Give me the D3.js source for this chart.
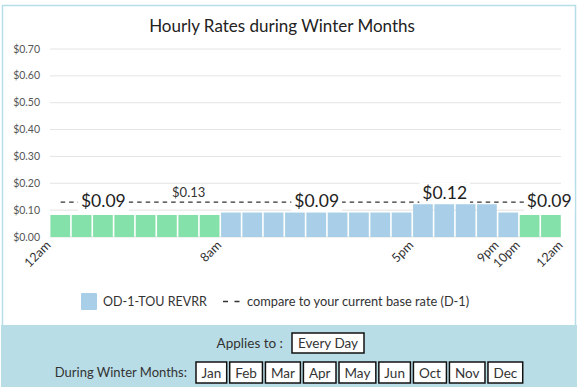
<!DOCTYPE html>
<html>
<head>
<meta charset="utf-8">
<script src="https://cdn.jsdelivr.net/npm/d3@7"></script>
<style>
  body { margin: 0; background: #fff; }
  text { font-family: Lato, "Noto Sans", sans-serif; }
</style>
</head>
<body>
<div id="chart"></div>
<script>
// hourly rates, 12am .. 11pm
var hourRates = [0.082, 0.082, 0.082, 0.082, 0.082, 0.082, 0.082, 0.082,
                 0.091, 0.091, 0.091, 0.091, 0.091, 0.091, 0.091, 0.091, 0.091,
                 0.122, 0.122, 0.122, 0.122,
                 0.091,
                 0.082, 0.082];
var hourPeriods = ["off", "off", "off", "off", "off", "off", "off", "off",
                   "on", "on", "on", "on", "on", "on", "on", "on", "on",
                   "on", "on", "on", "on",
                   "on",
                   "off", "off"];

var tickHours = [0, 8, 17, 21, 22, 24];
var tickLabels = ["12am", "8am", "5pm", "9pm", "10pm", "12am"];
var yTicks = [0, 0.1, 0.2, 0.3, 0.4, 0.5, 0.6, 0.7];

var priceLabels = ["$0.09", "$0.09", "$0.12", "$0.09"];
var priceLabelHours = [2.5, 12.5, 18.5, 23.4];
var priceLabelValues = [0.09, 0.09, 0.12, 0.09];

var baseRate = 0.13;
var baseRateLabel = "$0.13";
var baseRateLabelHour = 6.5;

var legendRate = "OD-1-TOU REVRR";
var legendBase = "compare to your current base rate (D-1)";
var appliesTo = "Every Day";
var winterMonths = ["Jan", "Feb", "Mar", "Apr", "May", "Jun", "Oct", "Nov", "Dec"];

var width = 581, height = 387;
var colors = { off: "#85e1aa", on: "#a8cfe7" };

var svg = d3.select("#chart").append("svg")
    .attr("width", width)
    .attr("height", height);

// panel frame
svg.append("rect")
    .attr("x", 2.5).attr("y", 5.5)
    .attr("width", 573).attr("height", 330)
    .attr("fill", "#fff")
    .attr("stroke", "#b7dde6")
    .attr("stroke-width", 1.5);

svg.append("rect")
    .attr("x", 1).attr("y", 325)
    .attr("width", 576).attr("height", 62)
    .attr("fill", "#b8dde7");

svg.append("text")
    .attr("x", 282).attr("y", 32)
    .attr("text-anchor", "middle")
    .style("font-size", "17px")
    .style("fill", "#222")
    .text("Hourly Rates during Winter Months");

var x = d3.scaleLinear().domain([0, 24]).range([50, 562]);
var y = d3.scaleLinear().domain([0, 0.7]).range([237, 49]);

// gridlines + y labels
var grid = svg.append("g");
grid.selectAll("line").data(yTicks).enter().append("line")
    .attr("x1", x(0)).attr("x2", x(24) - 1)
    .attr("y1", function(d){ return y(d); })
    .attr("y2", function(d){ return y(d); })
    .style("stroke", "#e4e4e4")
    .style("stroke-width", 1);
grid.selectAll("text").data(yTicks).enter().append("text")
    .attr("x", 40)
    .attr("y", function(d){ return y(d) + 3.5; })
    .attr("text-anchor", "end")
    .style("font-size", "10.5px")
    .style("fill", "#555")
    .text(function(d){ return "$" + d3.format(".2f")(d); });

// bars
svg.append("g").selectAll("rect").data(hourRates).enter().append("rect")
    .attr("x", function(d, i){ return x(i) + 0.4; })
    .attr("width", function(d, i){ return x(i + 1) - x(i) - 1.6; })
    .attr("y", function(d){ return y(d); })
    .attr("height", function(d){ return y(0) - y(d); })
    .style("fill", function(d, i){ return colors[hourPeriods[i]]; });

// base rate dashed line, bar centre to bar centre
svg.append("line")
    .attr("x1", x(0.5)).attr("x2", x(23.5))
    .attr("y1", y(baseRate)).attr("y2", y(baseRate))
    .style("stroke", "#333")
    .style("stroke-width", 1.4)
    .style("stroke-dasharray", "4.5,4");

svg.append("text")
    .attr("x", x(baseRateLabelHour))
    .attr("y", y(baseRate) - 5.5)
    .attr("text-anchor", "middle")
    .style("font-size", "13px")
    .style("fill", "#333")
    .text(baseRateLabel);

// price labels with white backing
priceLabels.forEach(function(lbl, i){
    var g = svg.append("g");
    var bg = g.append("rect").style("fill", "#fff");
    var t = g.append("text")
        .attr("x", x(priceLabelHours[i]))
        .attr("y", y(priceLabelValues[i]) - 6)
        .attr("text-anchor", "middle")
        .style("font-size", "17.5px")
        .style("fill", "#222")
        .text(lbl);
    var b = t.node().getBBox();
    bg.attr("x", b.x - 3).attr("y", b.y + 1)
      .attr("width", b.width + 6).attr("height", b.height);
});

// x tick labels
svg.append("g").selectAll("text").data(tickHours).enter().append("text")
    .attr("transform", function(d){ return "translate(" + (x(d) + 1.5) + ",246) rotate(-45)"; })
    .attr("text-anchor", "end")
    .style("font-size", "12.5px")
    .style("fill", "#333")
    .text(function(d, i){ return tickLabels[i]; });

// legend
svg.append("rect")
    .attr("x", 81).attr("y", 293).attr("width", 16).attr("height", 17)
    .attr("rx", 1)
    .style("fill", colors.on);
svg.append("text")
    .attr("x", 103).attr("y", 306)
    .style("font-size", "12.5px").style("fill", "#333")
    .text(legendRate);
svg.append("line")
    .attr("x1", 223).attr("x2", 240)
    .attr("y1", 301.5).attr("y2", 301.5)
    .style("stroke", "#333").style("stroke-width", 1.5)
    .style("stroke-dasharray", "5,6.5");
svg.append("text")
    .attr("x", 247).attr("y", 306)
    .style("font-size", "12.8px").style("fill", "#333")
    .text(legendBase);

// applies-to row
var boxFont = 13.5;
svg.append("text")
    .attr("x", 283).attr("y", 348)
    .attr("text-anchor", "end")
    .style("font-size", boxFont + "px").style("fill", "#333")
    .text("Applies to :");

function boxed(label, x0, yTop, h, pad){
    var g = svg.append("g");
    var r = g.append("rect");
    var t = g.append("text")
        .attr("y", yTop + h / 2 + 5)
        .attr("text-anchor", "middle")
        .style("font-size", boxFont + "px").style("fill", "#333")
        .text(label);
    var w = t.node().getComputedTextLength() + pad;
    t.attr("x", x0 + w / 2);
    r.attr("x", x0).attr("y", yTop).attr("width", w).attr("height", h)
     .style("fill", "#fff").style("stroke", "#111").style("stroke-width", 1.5);
    return w;
}
boxed(appliesTo, 292, 333, 20, 12);

svg.append("text")
    .attr("x", 187).attr("y", 377)
    .attr("text-anchor", "end")
    .style("font-size", "13px").style("fill", "#333")
    .text("During Winter Months:");

var mx = 196;
winterMonths.forEach(function(m){
    mx += boxed(m, mx, 362, 21, 11) + 3;
});
</script>
</body>
</html>
